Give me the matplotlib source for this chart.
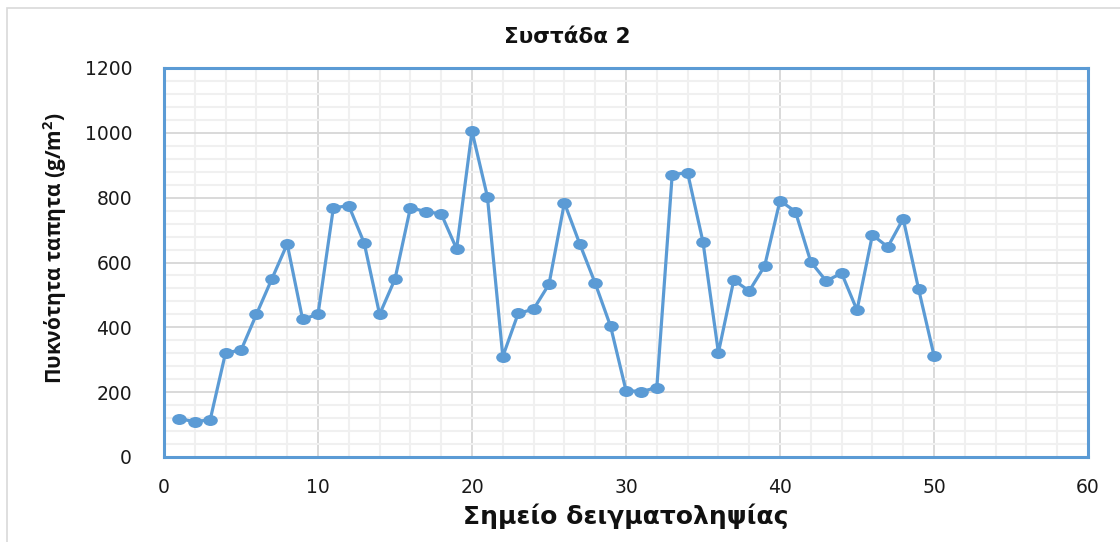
import matplotlib
matplotlib.use("Agg")
import matplotlib.pyplot as plt
from matplotlib.ticker import MultipleLocator
from matplotlib.patches import Rectangle
from matplotlib.path import Path
from matplotlib.transforms import Affine2D
from matplotlib import font_manager

points = list(range(1, 51))
density = [118, 109, 115, 322, 329, 440, 549, 657, 425, 440,
           769, 775, 660, 440, 549, 769, 757, 750, 642, 1005,
           803, 310, 443, 456, 533, 784, 657, 536, 403, 205,
           202, 214, 871, 877, 663, 322, 546, 512, 589, 791,
           757, 602, 543, 567, 453, 685, 648, 735, 518, 313]

title = "Συστάδα 2"
xlabel = "Σημείο δειγματοληψίας"
ylabel = "Πυκνότητα ταπητα (g/m$^2$)"

available = {f.name for f in font_manager.fontManager.ttflist}
narrow = 'Liberation Sans Narrow' in available
yfam = 'Liberation Sans Narrow' if narrow else 'Open Sans'
ysize = 18 if narrow else 15

plt.rcParams['font.family'] = ['DejaVu Sans']
plt.rcParams['mathtext.fontset'] = 'custom'
plt.rcParams['mathtext.rm'] = yfam + ':bold'
blue = '#5B9BD5'

ellipse = Path.unit_circle().transformed(Affine2D().scale(1.38, 1.0))

fig = plt.figure(figsize=(11.2, 5.42), dpi=100)
W, H = 1120, 542
ax = fig.add_axes([164 / W, 1 - 457 / H, (1088 - 164) / W, (457 - 68) / H])

ax.plot(points, density, color=blue, lw=2.3, marker=ellipse, ms=9.5,
        markerfacecolor=blue, markeredgecolor=blue, zorder=3)

ax.set_xlim(0, 60)
ax.set_ylim(0, 1200)
ax.xaxis.set_major_locator(MultipleLocator(10))
ax.xaxis.set_minor_locator(MultipleLocator(2))
ax.yaxis.set_major_locator(MultipleLocator(200))
ax.yaxis.set_minor_locator(MultipleLocator(40))
ax.grid(which='major', color='#D9D9D9', lw=1.4, zorder=0)
ax.grid(which='minor', color='#F0F0F0', lw=1.5, zorder=0)
ax.set_axisbelow(True)
ax.tick_params(which='both', length=0)
ax.tick_params(axis='y', labelsize=13.5, pad=23, colors='#1a1a1a')
ax.tick_params(axis='x', labelsize=13.5, pad=15, colors='#1a1a1a')
for s in ax.spines.values():
    s.set_color(blue)
    s.set_linewidth(2.2)

fig.text(567 / W, 1 - 37 / H, title, ha='center', va='center',
         fontsize=15.5, fontweight='bold', color='#111111')
fig.text(626 / W, 1 - 516 / H, xlabel, ha='center', va='center',
         fontsize=18, fontweight='bold', color='#111111')
fig.text(55 / W, 1 - 248 / H, ylabel, ha='center', va='center',
         rotation=90, fontsize=ysize, fontweight='bold', color='#111111',
         family=[yfam, 'DejaVu Sans'])

fig.patches.append(Rectangle((7 / W, -0.1), 1.2, 1 - 8 / H + 0.1,
                             transform=fig.transFigure, fill=False,
                             edgecolor='#D9D9D9', lw=1.2))

fig.savefig('out.png', dpi=100)
